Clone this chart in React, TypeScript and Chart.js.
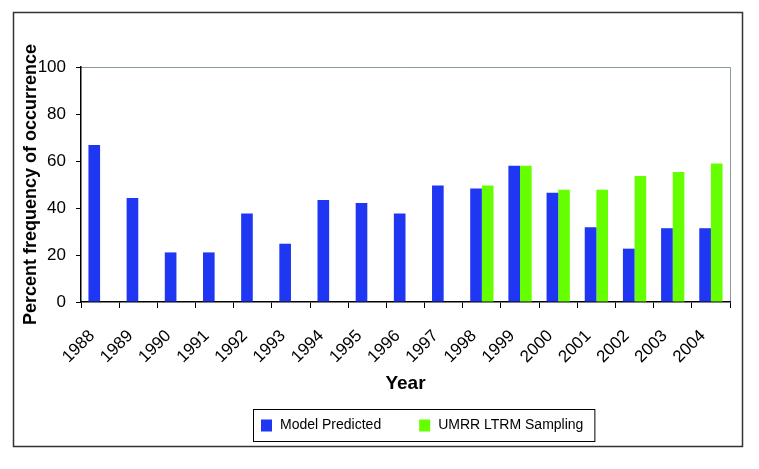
import React, { useEffect, useRef } from "react";
import { Chart, registerables } from "chart.js";

Chart.register(...registerables);

const years = ["1988", "1989", "1990", "1991", "1992", "1993", "1994", "1995", "1996", "1997", "1998", "1999", "2000", "2001", "2002", "2003", "2004"];
const modelPredicted = [66.8, 44.3, 21.1, 21.1, 37.7, 24.8, 43.4, 42.1, 37.7, 49.6, 48.3, 58.0, 46.5, 31.8, 22.7, 31.4, 31.4];
const umrrSampling = [null, null, null, null, null, null, null, null, null, null, 49.6, 58.0, 47.8, 47.8, 53.6, 55.3, 58.9];
const seriesNames = ["Model Predicted", "UMRR LTRM Sampling"];
const yTicks = [0, 20, 40, 60, 80, 100];

const BLUE = "#1F36F2";
const GREEN = "#66FF00";
const FONT = "'Liberation Sans', Arial, sans-serif";

const framePlugin = {
  id: "frame",
  beforeDraw(chart: any) {
    const ctx = chart.ctx;
    ctx.save();
    ctx.fillStyle = "#ffffff";
    ctx.fillRect(0, 0, chart.width, chart.height);
    ctx.strokeStyle = "#333333";
    ctx.lineWidth = 1.5;
    ctx.strokeRect(13.5, 12.5, 729, 434);
    const a = chart.chartArea;
    ctx.strokeStyle = "#8A9A9A";
    ctx.lineWidth = 1;
    ctx.beginPath();
    ctx.moveTo(a.left, a.top + 0.5);
    ctx.lineTo(a.right + 0.5, a.top + 0.5);
    ctx.lineTo(a.right + 0.5, a.bottom);
    ctx.stroke();
    ctx.restore();
  },
  afterDraw(chart: any) {
    const ctx = chart.ctx;
    ctx.save();
    ctx.font = `14px ${FONT}`;
    ctx.textBaseline = "middle";
    const ds = chart.data.datasets;
    const box = 11;
    const gapText = 8;
    const gapItem = 38;
    let total = 0;
    ds.forEach((d: any, i: number) => {
      total += box + gapText + ctx.measureText(d.label).width;
      if (i < ds.length - 1) total += gapItem;
    });
    const padL = 8;
    const padR = 11;
    const centerX = 423.5;
    const boxW = total + padL + padR;
    const left = Math.round(centerX - boxW / 2);
    const top = 409;
    const h = 32;
    ctx.strokeStyle = "#000000";
    ctx.lineWidth = 1;
    ctx.strokeRect(left + 0.5, top + 0.5, boxW, h);
    let x = left + padL;
    const cy = top + h / 2 + 0.5;
    ds.forEach((d: any) => {
      ctx.fillStyle = d.backgroundColor;
      ctx.fillRect(x, cy - 6, box, box + 1);
      x += box + gapText;
      ctx.fillStyle = "#000000";
      ctx.fillText(d.label, x, cy);
      x += ctx.measureText(d.label).width + gapItem;
    });
    ctx.restore();
  },
};

export default function App() {
  const ref = useRef<HTMLCanvasElement>(null);
  useEffect(() => {
    if (!ref.current) return;
    const chart = new Chart(ref.current, {
      type: "bar",
      data: {
        labels: years,
        datasets: [
          { label: seriesNames[0], data: modelPredicted, backgroundColor: BLUE, borderWidth: 0 },
          { label: seriesNames[1], data: umrrSampling as any, backgroundColor: GREEN, borderWidth: 0 },
        ],
      },
      options: {
        animation: false,
        responsive: false,
        devicePixelRatio: 1,
        layout: { padding: { left: 20, top: 67, right: 29, bottom: 74 } },
        datasets: { bar: { categoryPercentage: 0.61, barPercentage: 1.0 } },
        plugins: { legend: { display: false }, tooltip: { enabled: false } },
        scales: {
          x: {
            grid: { offset: true, drawOnChartArea: false, tickLength: 6, color: "#000000", tickWidth: 1 },
            border: { color: "#000000", width: 1.5 },
            ticks: {
              minRotation: 45,
              maxRotation: 45,
              color: "#000000",
              padding: 18,
              labelOffset: -8,
              font: { family: FONT, size: 17 },
              autoSkip: false,
            },
            title: {
              display: true,
              text: "Year",
              color: "#000000",
              font: { family: FONT, size: 19, weight: "bold" },
              padding: { top: 4, bottom: 0 },
            },
            afterFit: (s: any) => {
              s.height = 93;
            },
          },
          y: {
            min: 0,
            max: 100,
            afterBuildTicks: (s: any) => {
              s.ticks = yTicks.map((v) => ({ value: v }));
            },
            grid: { drawOnChartArea: false, tickLength: 5, color: "#000000" },
            border: { color: "#000000", width: 1.5 },
            ticks: {
              color: "#000000",
              padding: 10,
              font: { family: FONT, size: 17 },
            },
            title: {
              display: true,
              text: "Percent frequency of occurrence",
              color: "#000000",
              font: { family: FONT, size: 18, weight: "bold" },
              padding: { top: 0, bottom: 0 },
            },
            afterFit: (s: any) => {
              s.width = 61;
            },
          },
        },
      },
      plugins: [framePlugin],
    });
    return () => chart.destroy();
  }, []);
  return (
    <div style={{ position: "absolute", left: 0, top: 0, width: 759, height: 469, background: "#fff" }}>
      <canvas ref={ref} width={759} height={469} style={{ width: 759, height: 469, display: "block" }} />
    </div>
  );
}
